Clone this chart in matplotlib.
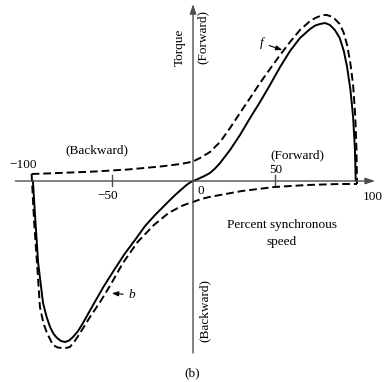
import matplotlib
matplotlib.use("Agg")
import matplotlib.pyplot as plt

plt.rcParams.update({
    "font.family": ["Liberation Serif", "DejaVu Serif"],
    "font.size": 9.5,
})

# net torque (solid), percent synchronous speed vs torque (arbitrary units)
net_speed = [-98.2, -97.0, -95.0, -92.0, -89.8, -87.7, -85.5, -83.4, -81.0, -78.5,
             -76.0, -73.6, -70.5, -67.5, -61.3, -55.0, -48.0, -42.0, -35.6, -29.4,
             -23.3, -17.2, -11.0, -7.5, -4.0, -1.5, 0.0, 2.0, 4.3, 7.0,
             10.4, 13.5, 16.6, 22.7, 28.8, 35.0, 41.1, 47.2, 53.4, 59.5,
             65.6, 71.8, 75.0, 77.9, 81.0, 84.0, 87.0, 90.0, 92.5, 94.5,
             96.5, 98.2, 99.3, 99.8]
net_torque = [0, -32, -82, -122, -136, -146, -153, -157, -160, -161,
              -159.5, -156, -150, -142, -124, -106, -88, -73, -59, -45,
              -34, -24, -14, -9, -4, -1.2, 0, 1.2, 3, 5,
              8, 12.5, 18, 31, 46, 63, 79, 96, 114, 130,
              143, 152, 155.5, 157, 158, 156, 151, 143, 130, 114,
              92, 64, 32, 0]

# forward component f (dashed)
fwd_speed = [-99.0, -90, -75, -60, -50, -40, -30, -20, -10, -5,
             0, 4.3, 10.4, 16.6, 22.7, 28.8, 35.0, 41.1, 47.2, 53.4,
             59.5, 65.6, 71.8, 75.0, 77.9, 80.0, 82.0, 84.0, 87.0, 90.0,
             92.5, 94.5, 96.5, 98.2, 99.5, 100.3, 100.6]
fwd_torque = [7, 7.5, 8.5, 9.5, 10.5, 11.5, 13, 14.5, 16.5, 17.8,
              19.5, 23, 29, 39, 53, 68, 83, 98, 112, 126,
              139, 151, 160, 163, 165, 166, 166, 165, 162, 157,
              148, 136, 118, 96, 65, 30, -3]

# backward component b (dashed)
bwd_speed = [-99.0, -97.5, -95.7, -93.9, -91.8, -89.6, -85.9, -83.0, -80.4, -78.0,
             -75.5, -72.5, -69.3, -63.2, -57, -51, -43, -34, -24, -15,
             -7, -3, 0, 5, 10, 20, 30, 40, 50, 60,
             70, 80, 90, 100.6]
bwd_torque = [7, -40, -82, -126, -142, -152, -164, -166.5, -167, -167,
              -166, -160, -152, -136, -121, -105, -82, -61, -44, -32,
              -25, -22.5, -21, -18, -16, -13, -10, -8, -6, -5,
              -4, -3.5, -3, -3]

fig = plt.figure(figsize=(3.88, 3.82), dpi=100)
ax = fig.add_axes([0, 0, 1, 1])
ax.set_xlim(-118.4, 119.6)
ax.set_ylim(-201, 181)
ax.axis("off")

# axes with arrows
ax.annotate("", xy=(111.7, 0), xytext=(-109, 0),
            arrowprops=dict(arrowstyle="-|>,head_length=0.6,head_width=0.2",
                            color="0.3", lw=1.0, shrinkA=0, shrinkB=0))
ax.annotate("", xy=(0, 177), xytext=(0, -172),
            arrowprops=dict(arrowstyle="-|>,head_length=0.6,head_width=0.2",
                            color="0.3", lw=1.0, shrinkA=0, shrinkB=0))
for t in (-50, 50):
    ax.plot([t, t], [-5, 6], color="0.3", lw=1.0)

ax.plot(net_speed, net_torque, color="k", lw=1.4)
ax.plot(fwd_speed, fwd_torque, color="k", lw=1.4, ls=(0, (4, 2)))
ax.plot(bwd_speed, bwd_torque, color="k", lw=1.4, ls=(0, (4, 2)))

ax.text(-8.0, 134, "Torque", rotation=90, ha="center", va="center")
ax.text(6.1, 144, "(Forward)", rotation=90, ha="center", va="center")
ax.text(7.4, -130, "(Backward)", rotation=90, ha="center", va="center")
ax.text(-58.9, 31, "(Backward)", ha="center", va="center")
ax.text(63.8, 26, "(Forward)", ha="center", va="center")
ax.text(-104.3, 16, "\u2212100", ha="center", va="center")
ax.text(-52.1, -15, "\u221250", ha="center", va="center")
ax.text(4.6, -10, "0", ha="center", va="center")
ax.text(50.9, 11, "50", ha="center", va="center")
ax.text(110.4, -16, "100", ha="center", va="center")
ax.text(54.6, -44, "Percent synchronous", ha="center", va="center")
ax.text(54.6, -61, "speed", ha="center", va="center")
ax.text(-0.6, -192, "(b)", ha="center", va="center")

ax.annotate("f", xy=(56.4, 130), xytext=(42.3, 138), style="italic",
            ha="center", va="center",
            arrowprops=dict(arrowstyle="-|>,head_length=0.4,head_width=0.15",
                            color="k", lw=0.8))
ax.annotate("b", xy=(-51.5, -112), xytext=(-37.4, -114), style="italic",
            ha="center", va="center",
            arrowprops=dict(arrowstyle="-|>,head_length=0.4,head_width=0.15",
                            color="k", lw=0.8))

fig.savefig("out.png", dpi=100)
